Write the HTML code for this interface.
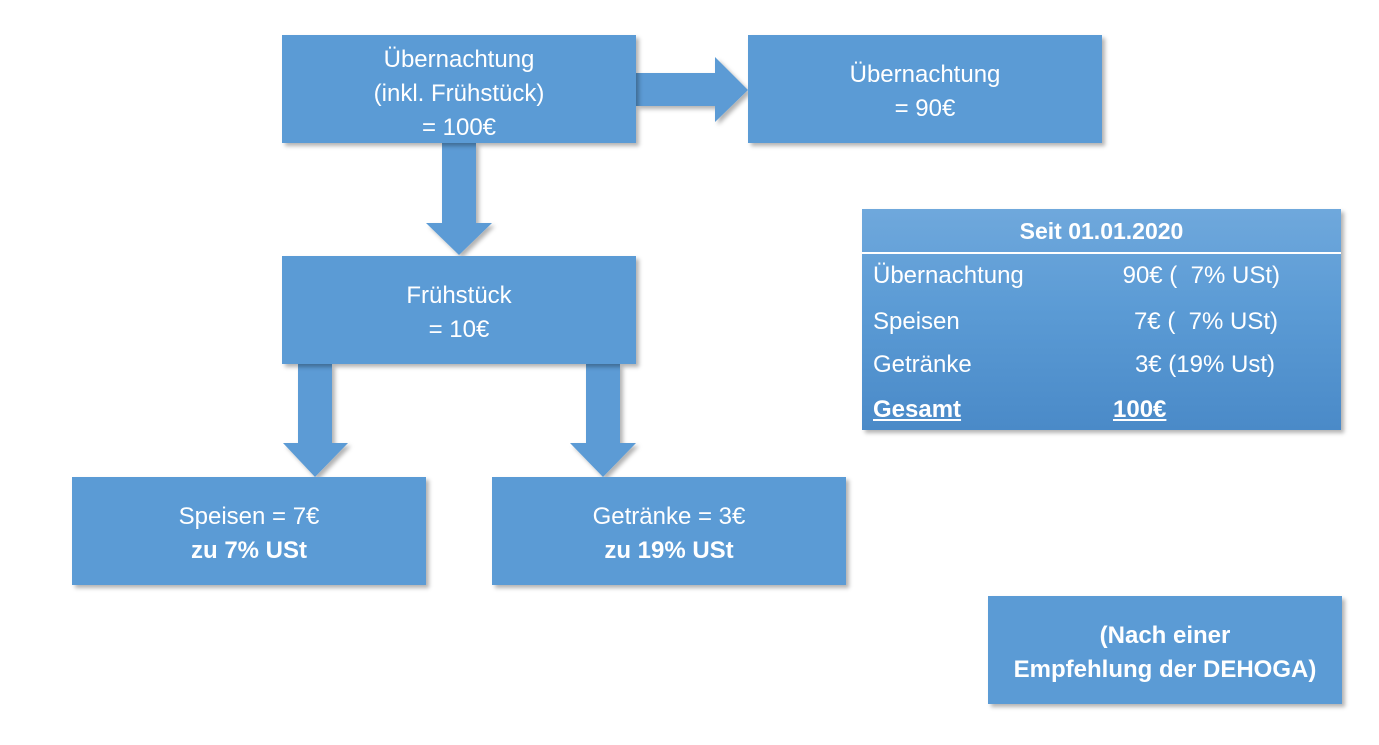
<!DOCTYPE html>
<html><head><meta charset="utf-8"><style>
body{margin:0;width:1379px;height:745px;background:#fff;position:relative;overflow:hidden;font-family:"Liberation Sans",sans-serif;color:#fff}
.b{position:absolute;background:#5b9bd5;box-shadow:3px 3px 4px rgba(0,0,0,.3);display:flex;flex-direction:column;align-items:center;justify-content:center;text-align:center;font-size:24px;line-height:34px;box-sizing:border-box;padding-top:6px}
.t{position:absolute;font-size:24px;line-height:30px;white-space:pre}
.r{right:61px;text-align:right}
</style></head><body>
<svg width="1379" height="745" style="position:absolute;left:0;top:0">
<defs><filter id="s"><feDropShadow dx="3" dy="3" stdDeviation="2" flood-opacity=".3"/></filter></defs>
<g fill="#5b9bd5" filter="url(#s)">
<polygon points="636,73 715,73 715,57 748,90 715,122 715,106 636,106"/>
<polygon points="442,143 476,143 476,223 492,223 459,255 426,223 442,223"/>
<polygon points="298,364 332,364 332,443 348,443 315,477 283,443 298,443"/>
<polygon points="586,364 620,364 620,443 636,443 603,477 570,443 586,443"/>
</g></svg>
<div class="b" style="left:282px;top:35px;width:354px;height:108px;padding-top:10px"><div>Übernachtung</div><div>(inkl. Frühstück)</div><div>= 100€</div></div>
<div class="b" style="left:748px;top:35px;width:354px;height:108px"><div>Übernachtung</div><div>= 90€</div></div>
<div class="b" style="left:282px;top:256px;width:354px;height:108px"><div>Frühstück</div><div>= 10€</div></div>
<div class="b" style="left:72px;top:477px;width:354px;height:108px"><div>Speisen = 7€</div><div style="font-weight:bold">zu 7% USt</div></div>
<div class="b" style="left:492px;top:477px;width:354px;height:108px"><div>Getränke = 3€</div><div style="font-weight:bold">zu 19% USt</div></div>
<div class="b" style="left:988px;top:596px;width:354px;height:108px;font-weight:bold"><div>(Nach einer</div><div>Empfehlung der DEHOGA)</div></div>
<div style="position:absolute;left:862px;top:209px;width:479px;height:221px;background:linear-gradient(#6fa8dc,#5b9bd5 45%,#4a8ac8);box-shadow:3px 3px 4px rgba(0,0,0,.3)">
<div style="height:43px;border-bottom:2px solid #fff;text-align:center;font-weight:bold;font-size:23px;line-height:45px">Seit 01.01.2020</div>
<div class="t" style="left:11px;top:52px">Übernachtung</div><div class="t r" style="top:52px">90€ (  7% USt)</div>
<div class="t" style="left:11px;top:98px">Speisen</div><div class="t r" style="top:98px;right:63px">7€ (  7% USt)</div>
<div class="t" style="left:11px;top:141px">Getränke</div><div class="t r" style="top:141px;right:66px">3€ (19% Ust)</div>
<div class="t" style="left:11px;top:186px;font-weight:bold;text-decoration:underline">Gesamt</div><div class="t" style="left:251px;top:186px;font-weight:bold;text-decoration:underline">100€</div>
</div>
</body></html>
